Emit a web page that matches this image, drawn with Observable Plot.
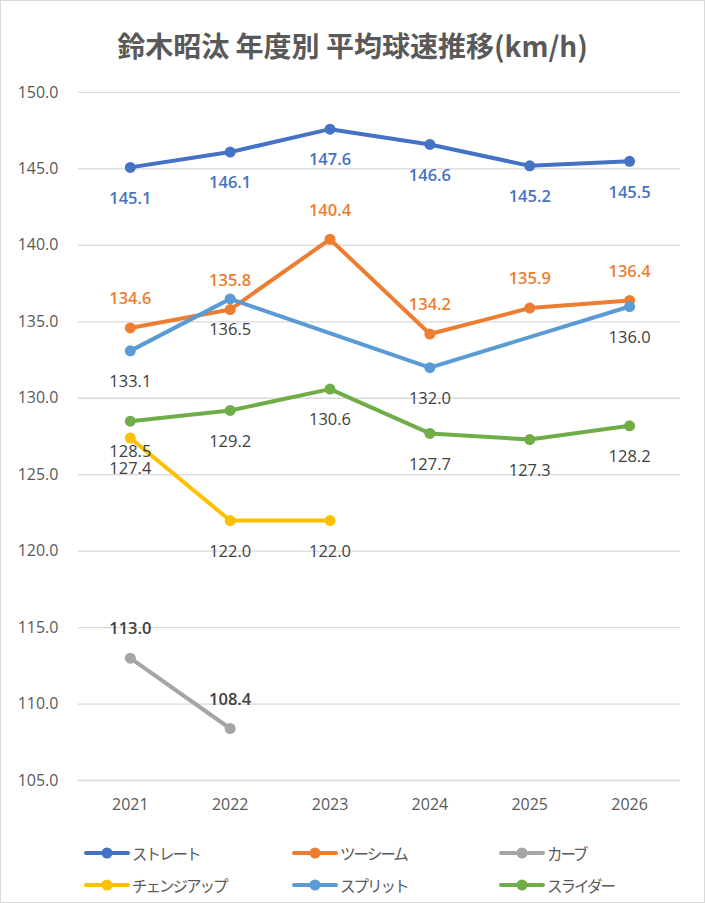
<!DOCTYPE html>
<html><head><meta charset="utf-8">
<script src="https://cdn.jsdelivr.net/npm/d3@7"></script>
<script src="https://cdn.jsdelivr.net/npm/@observablehq/plot@0.6"></script>
<style>
body{margin:0;background:#fff;}
#frame{position:relative;width:705px;height:903px;box-sizing:border-box;border:1px solid #d9d9d9;background:#fff;overflow:hidden;}
#title{position:absolute;left:0;top:24px;width:100%;text-align:center;font-family:"Noto Sans CJK JP",sans-serif;font-size:28px;font-weight:700;color:#595959;line-height:40px;}
#chart{position:absolute;left:-1px;top:69px;}
.leg{position:absolute;display:flex;align-items:center;font-family:"Noto Sans CJK JP",sans-serif;font-size:15.5px;letter-spacing:-2px;color:#595959;}
.leg svg{margin-right:2px;}
</style></head>
<body>
<div id="frame">
  <div id="title">鈴木昭汰 年度別 平均球速推移(km/h)</div>
  <div id="chart"></div>
  <div id="legend"></div>
</div>
<script>
const years = ["2021","2022","2023","2024","2025","2026"];
const seriesNames = ["ストレート","ツーシーム","カーブ","チェンジアップ","スプリット","スライダー"];
const seriesColors = ["#4472C4","#ED7D31","#A5A5A5","#FFC000","#5B9BD5","#70AD47"];
const straight = [145.1,146.1,147.6,146.6,145.2,145.5];
const twoSeam  = [134.6,135.8,140.4,134.2,135.9,136.4];
const curve    = [113.0,108.4,null,null,null,null];
const changeup = [127.4,122.0,122.0,null,null,null];
const split    = [133.1,136.5,null,132.0,null,136.0];
const slider   = [128.5,129.2,130.6,127.7,127.3,128.2];
const yTicks = [105,110,115,120,125,130,135,140,145,150];

const seriesValues = [straight, twoSeam, curve, changeup, split, slider];
const labelAbove = [false, true, true, false, false, false];
const labelColors = ["#4472C4","#ED7D31","#404040","#404040","#404040","#404040"];
const labelWeights = [600,600,600,400,400,400];

const fmt = d3.format(".1f");
const series = seriesNames.map((name, i) => ({
  name, color: seriesColors[i],
  rows: years.map((year, j) => ({year, value: seriesValues[i][j], name})).filter(d => d.value != null)
}));

const lineMarks = series.flatMap(s => [
  Plot.line(s.rows, {x: "year", y: "value", stroke: s.color, strokeWidth: 4, strokeLinecap: "round", strokeLinejoin: "round"}),
  Plot.dot(s.rows, {x: "year", y: "value", fill: s.color, r: 5.5, stroke: "none"})
]);
const labelMarks = series.map((s, i) =>
  Plot.text(s.rows, {x: "year", y: "value", text: d => fmt(d.value), dy: labelAbove[i] ? -29 : 31,
    fill: labelColors[i], fontSize: 16.5, fontWeight: labelWeights[i], stroke: "none"})
);

const chart = Plot.plot({
  width: 705, height: 760,
  marginTop: 22, marginBottom: 49, marginLeft: 78, marginRight: 24,
  style: {fontFamily: "'Open Sans','Noto Sans',sans-serif", fontSize: "16px", color: "#595959", background: "transparent", overflow: "visible"},
  x: {type: "point", domain: years, padding: 0.5, label: null},
  y: {domain: [105, 150], label: null},
  marks: [
    Plot.ruleY(yTicks, {stroke: "#d9d9d9", strokeWidth: 1.3}),
    Plot.axisY({ticks: yTicks, tickSize: 0, tickPadding: 20, tickFormat: fmt, fontSize: 16, label: null, fill: "#595959"}),
    Plot.axisX({tickSize: 0, tickPadding: 18, fontSize: 16, label: null, fill: "#595959"}),
    ...lineMarks,
    ...labelMarks
  ]
});
document.getElementById("chart").appendChild(chart);

const legend = document.getElementById("legend");
const colX = [83, 291, 498];
const rowY = [852, 884];
seriesNames.forEach((name, i) => {
  const item = document.createElement("div");
  item.className = "leg";
  item.style.left = colX[i % 3] + "px";
  item.style.top = (rowY[Math.floor(i / 3)] - 12) + "px";
  item.style.height = "24px";
  const ns = "http://www.w3.org/2000/svg";
  const sw = document.createElementNS(ns, "svg");
  sw.setAttribute("width", 46); sw.setAttribute("height", 12);
  const ln = document.createElementNS(ns, "line");
  ln.setAttribute("x1", 2); ln.setAttribute("x2", 44); ln.setAttribute("y1", 6); ln.setAttribute("y2", 6);
  ln.setAttribute("stroke", seriesColors[i]); ln.setAttribute("stroke-width", 4); ln.setAttribute("stroke-linecap", "round");
  const c = document.createElementNS(ns, "circle");
  c.setAttribute("cx", 23); c.setAttribute("cy", 6); c.setAttribute("r", 5.5); c.setAttribute("fill", seriesColors[i]);
  sw.appendChild(ln); sw.appendChild(c);
  const t = document.createElement("span");
  t.textContent = name;
  item.appendChild(sw); item.appendChild(t);
  legend.appendChild(item);
});
</script>
</body></html>
